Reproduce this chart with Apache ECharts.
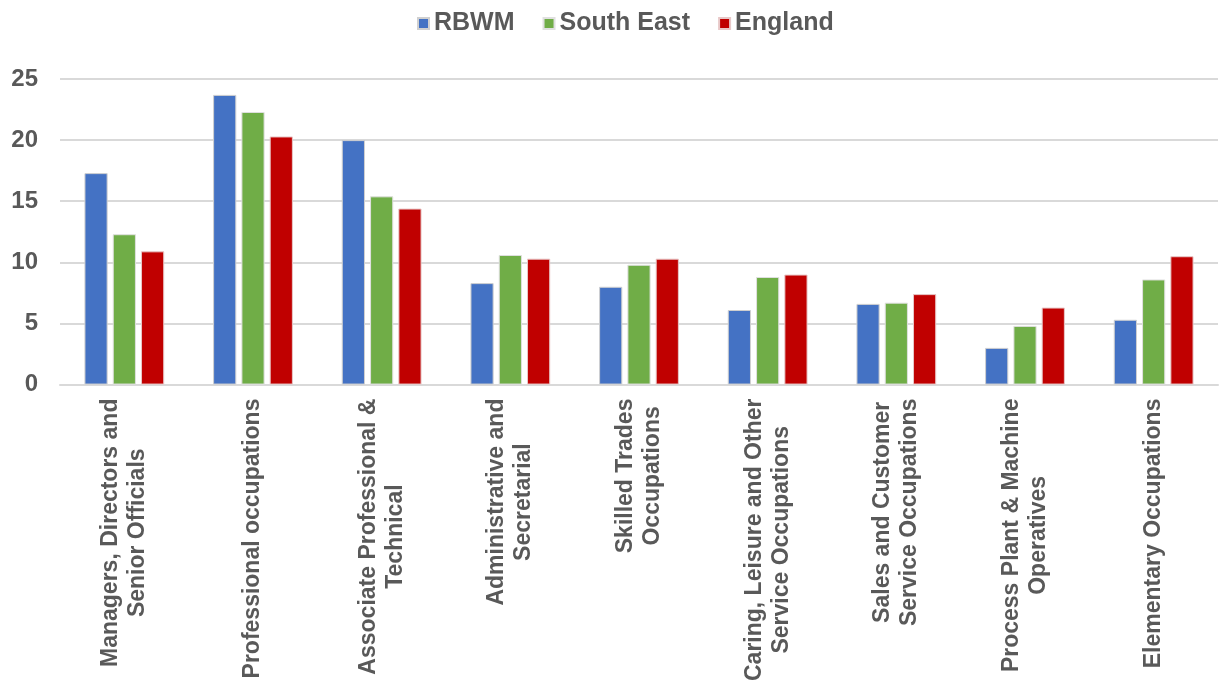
<!DOCTYPE html>
<html lang="en">
<head>
    <meta charset="UTF-8">
    <title>Occupations</title>
    <style>
        html, body { margin: 0; padding: 0; background: #fff; }
        #main { width: 1221px; height: 684px; }
    </style>
</head>
<body>
<div id="main"></div>
<script src="https://cdn.jsdelivr.net/npm/echarts@6/dist/echarts.min.js"></script>
<script>
    var categories = [
        'Managers, Directors and\nSenior Officials',
        'Professional occupations',
        'Associate Professional &\nTechnical',
        'Administrative and\nSecretarial',
        'Skilled Trades\nOccupations',
        'Caring, Leisure and Other\nService Occupations',
        'Sales and Customer\nService Occupations',
        'Process Plant & Machine\nOperatives',
        'Elementary Occupations'
    ];
    var rbwm = [17.3, 23.7, 20.0, 8.3, 8.0, 6.1, 6.6, 3.0, 5.3];
    var southEast = [12.3, 22.3, 15.4, 10.6, 9.8, 8.8, 6.7, 4.8, 8.6];
    var england = [10.9, 20.3, 14.4, 10.3, 10.3, 9.0, 7.4, 6.3, 10.5];
    var yTicks = [0, 5, 10, 15, 20, 25];

    var textColor = '#595959';
    var font = 'Liberation Sans, Arial, sans-serif';

    var chart = echarts.init(document.getElementById('main'));

    function bar(name, data, color, border) {
        return {
            name: name,
            type: 'bar',
            data: data,
            barGap: '22%',
            barCategoryGap: '38%',
            itemStyle: {color: color, borderColor: border, borderWidth: 1}
        };
    }

    chart.setOption({
        animation: false,
        textStyle: {fontFamily: font},
        legend: {
            top: 6,
            left: 412,
            itemWidth: 11,
            itemHeight: 11,
            itemGap: 28,
            icon: 'rect',
            textStyle: {color: textColor, fontSize: 25, fontWeight: 'bold', fontFamily: font}
        },
        grid: {left: 60, right: 3, top: 79, bottom: 299, containLabel: false},
        xAxis: {
            type: 'category',
            data: categories,
            axisTick: {show: false},
            axisLine: {lineStyle: {color: '#d9d9d9', width: 2}},
            axisLabel: {
                rotate: 90,
                interval: 0,
                margin: 14,
                color: textColor,
                fontSize: 23,
                fontWeight: 'bold',
                lineHeight: 27,
                fontFamily: font,
                formatter: function (v) {
                    return v.split('\n').map(function (s) { return '{c|' + s + '}'; }).join('\n');
                },
                rich: {
                    c: {align: 'center', color: textColor, fontSize: 23, fontWeight: 'bold', lineHeight: 27, fontFamily: font}
                }
            }
        },
        yAxis: {
            type: 'value',
            min: yTicks[0],
            max: yTicks[yTicks.length - 1],
            interval: 5,
            axisLabel: {color: textColor, fontSize: 24, fontWeight: 'bold', margin: 22, fontFamily: font},
            splitLine: {lineStyle: {color: '#d9d9d9', width: 2}}
        },
        series: [
            bar('RBWM', rbwm, '#4472c4', '#d0d0d0'),
            bar('South East', southEast, '#70ad47', '#e0e0e0'),
            bar('England', england, '#c00000', '#e8c8c8')
        ]
    });
</script>
</body>
</html>
